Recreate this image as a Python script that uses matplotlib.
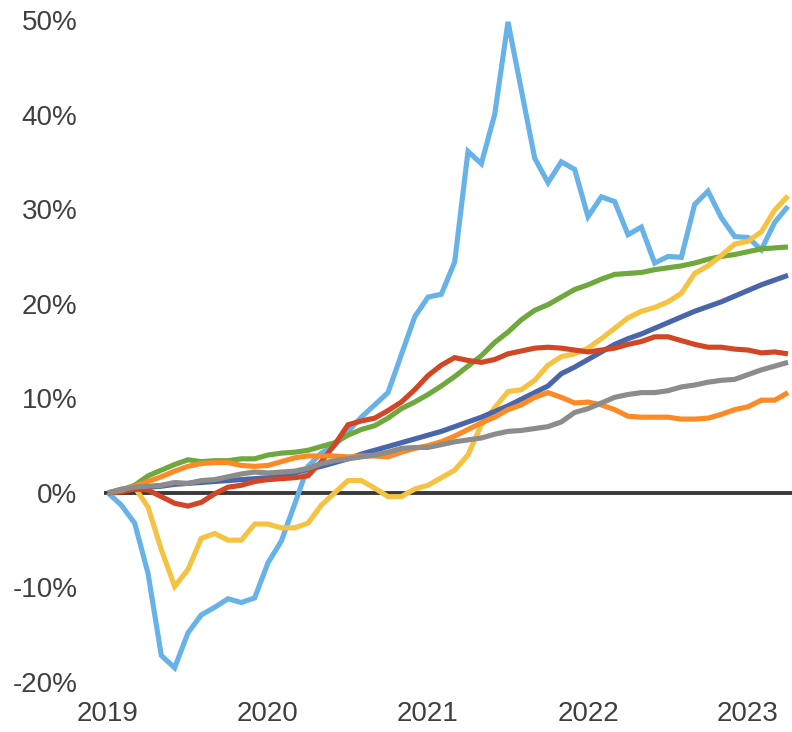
import matplotlib
matplotlib.use("Agg")
import matplotlib.pyplot as plt
from matplotlib.ticker import FuncFormatter

# monthly cumulative change (%), Jan 2019 .. Apr 2023
months = list(range(52))
year_ticks = [0, 12, 24, 36, 48]
year_labels = ["2019", "2020", "2021", "2022", "2023"]

light_blue = [0, -1.3, -3.2, -8.5, -17.2, -18.5, -14.8, -12.9, -12.1, -11.2,
              -11.6, -11.1, -7.4, -5.1, -1.2, 2.8, 4.2, 5.0, 6.5, 8.0,
              9.3, 10.6, 14.6, 18.6, 20.7, 21.0, 24.4, 36.1, 34.8, 40.0,
              49.8, 42.6, 35.4, 32.8, 35.0, 34.2, 29.2, 31.3, 30.8, 27.3,
              28.1, 24.3, 25.0, 24.9, 30.5, 31.9, 29.1, 27.1, 27.0, 25.7,
              28.6, 30.3]

green = [0, 0.3, 0.8, 1.8, 2.4, 3.0, 3.5, 3.3, 3.4, 3.4,
         3.6, 3.6, 4.0, 4.2, 4.3, 4.5, 4.9, 5.3, 6.1, 6.7,
         7.1, 7.9, 8.9, 9.6, 10.4, 11.3, 12.3, 13.4, 14.5, 15.9,
         17.0, 18.3, 19.3, 19.9, 20.7, 21.5, 22.0, 22.6, 23.1, 23.2,
         23.3, 23.6, 23.8, 24.0, 24.3, 24.7, 25.0, 25.2, 25.5, 25.8,
         25.9, 26.0]

yellow = [0, 0.3, 0.6, -1.5, -6.0, -9.9, -8.1, -4.8, -4.3, -5.0,
          -5.0, -3.3, -3.3, -3.7, -3.7, -3.2, -1.3, 0.0, 1.3, 1.3,
          0.5, -0.4, -0.4, 0.4, 0.8, 1.6, 2.4, 4.0, 7.2, 9.0,
          10.7, 10.9, 11.9, 13.5, 14.4, 14.7, 15.3, 16.3, 17.4, 18.5,
          19.2, 19.6, 20.2, 21.1, 23.2, 24.0, 25.1, 26.3, 26.6, 27.6,
          29.9, 31.4]

navy = [0, 0.2, 0.4, 0.6, 0.7, 0.9, 1.0, 1.1, 1.2, 1.3,
        1.4, 1.5, 1.6, 1.8, 2.1, 2.5, 2.8, 3.2, 3.6, 4.1,
        4.5, 4.9, 5.3, 5.7, 6.1, 6.5, 7.0, 7.5, 8.0, 8.6,
        9.2, 9.9, 10.6, 11.3, 12.6, 13.3, 14.1, 14.9, 15.7, 16.3,
        16.8, 17.4, 18.0, 18.6, 19.2, 19.7, 20.2, 20.8, 21.4, 22.0,
        22.5, 23.0]

red = [0, 0.1, 0.4, 0.3, -0.4, -1.1, -1.4, -1.0, -0.1, 0.6,
       0.8, 1.2, 1.4, 1.5, 1.6, 1.8, 3.3, 5.1, 7.2, 7.6,
       7.9, 8.7, 9.6, 10.9, 12.4, 13.5, 14.3, 14.0, 13.8, 14.1,
       14.7, 15.0, 15.3, 15.4, 15.3, 15.1, 14.9, 15.1, 15.3, 15.7,
       16.0, 16.5, 16.5, 16.1, 15.7, 15.4, 15.4, 15.2, 15.1, 14.8,
       14.9, 14.7]

orange = [0, 0.3, 0.7, 1.2, 1.7, 2.3, 2.8, 3.1, 3.2, 3.2,
          2.9, 2.8, 2.9, 3.3, 3.7, 3.9, 3.9, 3.9, 3.8, 3.9,
          3.9, 3.8, 4.3, 4.7, 5.0, 5.4, 6.0, 6.7, 7.4, 8.0,
          8.8, 9.3, 10.1, 10.6, 10.1, 9.5, 9.6, 9.3, 8.8, 8.1,
          8.0, 8.0, 8.0, 7.8, 7.8, 7.9, 8.3, 8.8, 9.1, 9.8,
          9.8, 10.6]

gray = [0, 0.4, 0.6, 0.7, 0.8, 1.1, 1.0, 1.3, 1.4, 1.7,
        2.0, 2.2, 2.1, 2.2, 2.3, 2.6, 3.1, 3.4, 3.6, 3.8,
        4.0, 4.3, 4.7, 4.8, 4.8, 5.1, 5.4, 5.6, 5.8, 6.2,
        6.5, 6.6, 6.8, 7.0, 7.5, 8.5, 8.9, 9.5, 10.1, 10.4,
        10.6, 10.6, 10.8, 11.2, 11.4, 11.7, 11.9, 12.0, 12.5, 13.0,
        13.4, 13.8]

plt.rcParams['font.family'] = ['Liberation Sans', 'DejaVu Sans']

fig = plt.figure(figsize=(7.92, 7.32), dpi=100)
ax = fig.add_axes([0.1313, 0.0683, 0.8687, 0.9044])

ax.axhline(0, color='#3a3a3a', lw=2.8, zorder=1)

series = [
    (light_blue, '#67b2e8'),
    (green, '#6fa83c'),
    (yellow, '#f5c242'),
    (navy, '#4a66ab'),
    (red, '#d24626'),
    (orange, '#fb8a27'),
    (gray, '#8c8c8c'),
]
for vals, col in series:
    ax.plot(months, vals, color=col, lw=3.7, solid_joinstyle='miter',
            solid_capstyle='butt', clip_on=False, zorder=2)

ax.set_xlim(-0.3, 51.3)
ax.set_ylim(-20, 50)
ax.set_yticks(range(-20, 51, 10))
ax.yaxis.set_major_formatter(FuncFormatter(lambda v, p: '%d%%' % v))
ax.set_xticks(year_ticks)
ax.set_xticklabels(year_labels)

ax.tick_params(axis='both', length=0, labelsize=20, labelcolor='#404040')
ax.tick_params(axis='y', pad=19)
ax.tick_params(axis='x', pad=14)
for s in ax.spines.values():
    s.set_visible(False)

fig.savefig('out.png', dpi=100)
